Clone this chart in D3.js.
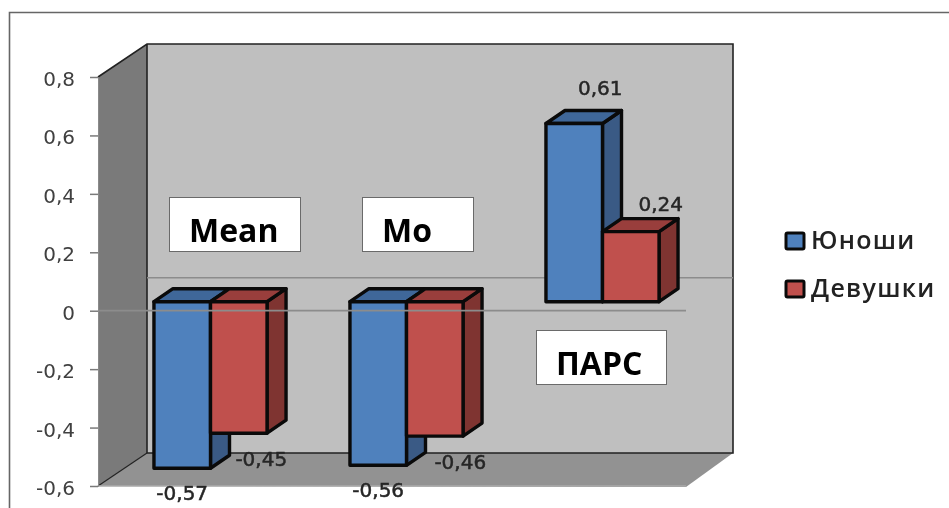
<!DOCTYPE html>
<html>
<head>
<meta charset="utf-8">
<script src="https://cdnjs.cloudflare.com/ajax/libs/d3/7.8.5/d3.min.js"></script>
<style>
  html, body { margin: 0; padding: 0; background: #fff; overflow: hidden; }
  text { font-family: "Open Sans", sans-serif; }
  svg { filter: blur(0.45px); }
</style>
</head>
<body>
<svg width="949" height="508"></svg>
<script>
let categories = ["Mean", "Mo", "ПАРС"]
let seriesNames = ["Юноши", "Девушки"]
let boys = [-0.57, -0.56, 0.61]
let girls = [-0.45, -0.46, 0.24]
let yTicks = [0.8, 0.6, 0.4, 0.2, 0, -0.2, -0.4, -0.6]

let fills = { "Юноши": ["#4f81bd", "#3f6799", "#3a5a85"], "Девушки": ["#c0504d", "#993e3c", "#7f3431"] }

let comma = d => String(d).replace(".", ",")

let svg = d3.select("svg")

let left = 98, right = 686, wallDx = 49, wallDy = -33
let y = d3.scaleLinear().domain([-0.6, 0.8]).range([486, 77])
let x0 = d3.scaleBand().domain(categories).range([left, right]).paddingInner(0.423).paddingOuter(0.2115)
let x1 = d3.scaleBand().domain(seriesNames).range([0, x0.bandwidth()])

// outer frame
svg.append("path").attr("d", "M9.5,508V12.5H949").attr("fill", "none").attr("stroke", "#666").attr("stroke-width", 1.6)

// 3d box: side wall, floor, back wall
let poly = pts => "M" + pts.map(p => p.join(",")).join("L") + "Z"
svg.append("path")
    .attr("d", poly([[left, y(0.8)], [left + wallDx, y(0.8) + wallDy], [left + wallDx, y(-0.6) + wallDy], [left, y(-0.6)]]))
    .attr("fill", "#7a7a7a")
svg.append("path")
    .attr("d", poly([[left, y(-0.6)], [left + wallDx, y(-0.6) + wallDy], [right + wallDx - 2, y(-0.6) + wallDy], [right, y(-0.6) + 1]]))
    .attr("fill", "#929292")
svg.append("rect")
    .attr("x", left + wallDx).attr("y", y(0.8) + wallDy)
    .attr("width", right - left - 2).attr("height", y(-0.6) - y(0.8))
    .attr("fill", "#bfbfbf")
svg.append("path")
    .attr("d", `M${left},${y(0.8)}L${left + wallDx},${y(0.8) + wallDy}H${right + wallDx - 2}V${y(-0.6) + wallDy}H${left + wallDx}V${y(0.8) + wallDy}`)
    .attr("fill", "none").attr("stroke", "#222").attr("stroke-width", 1.6)
svg.append("path")
    .attr("d", `M${left},${y(-0.6)}L${left + wallDx},${y(-0.6) + wallDy}`)
    .attr("fill", "none").attr("stroke", "#222").attr("stroke-width", 1.2)
svg.append("path")
    .attr("d", `M${left},${y(-0.6)}H${right}`)
    .attr("fill", "none").attr("stroke", "#aaa").attr("stroke-width", 1.5)

// zero line on the back wall
svg.append("line")
    .attr("x1", left + wallDx).attr("x2", right + wallDx - 2)
    .attr("y1", y(0) + wallDy).attr("y2", y(0) + wallDy)
    .attr("stroke", "#8c8c8c").attr("stroke-width", 1.6)

// value axis
let yAxis = d3.axisLeft(y).tickValues(yTicks).tickFormat(comma).tickSize(8).tickPadding(15)
let axisG = svg.append("g").attr("transform", `translate(${left},0)`).call(yAxis)
axisG.select(".domain").attr("stroke", "#8a8a8a")
axisG.selectAll(".tick line").attr("stroke", "#7a7a7a").attr("stroke-width", 1.5)
axisG.selectAll(".tick text")
    .attr("fill", "#404040")
    .attr("dy", "8.5px")
    .style("font-family", "'DejaVu Sans', sans-serif")
    .style("font-size", "20px")

// bars sit a bit inside the box
let barDx = 14.5, barDy = -9, depthX = 19, depthY = -13

let bars = []
categories.forEach((c, i) => {
    bars.push({ cat: c, name: seriesNames[0], value: boys[i] })
    bars.push({ cat: c, name: seriesNames[1], value: girls[i] })
})

let barG = svg.append("g").attr("stroke", "#0a0a0a").attr("stroke-width", 3.4).attr("stroke-linejoin", "round")

bars.forEach(d => {
    let xa = x0(d.cat) + x1(d.name) + barDx, xb = xa + x1.bandwidth()
    let yTop = Math.min(y(0), y(d.value)) + barDy, yBot = Math.max(y(0), y(d.value)) + barDy
    let f = fills[d.name]
    barG.append("path")
        .attr("d", poly([[xb, yTop], [xb + depthX, yTop + depthY], [xb + depthX, yBot + depthY], [xb, yBot]]))
        .attr("fill", f[2])
    barG.append("path")
        .attr("d", poly([[xa, yTop], [xa + depthX, yTop + depthY], [xb + depthX, yTop + depthY], [xb, yTop]]))
        .attr("fill", f[1])
    barG.append("rect")
        .attr("x", xa).attr("y", yTop)
        .attr("width", xb - xa).attr("height", yBot - yTop)
        .attr("fill", f[0])
})

// zero line in front of the bars
svg.append("line")
    .attr("x1", left).attr("x2", right)
    .attr("y1", y(0)).attr("y2", y(0))
    .attr("stroke", "#8c8c8c").attr("stroke-width", 1.8)

// value labels, moved by hand like in the original
let labelOffsets = {
    "Mean|Юноши": [0, 32], "Mean|Девушки": [22.5, 33],
    "Mo|Юноши": [0, 32], "Mo|Девушки": [25.5, 33],
    "ПАРС|Юноши": [26, -29], "ПАРС|Девушки": [30, -21]
}
svg.append("g").selectAll("text").data(bars).join("text")
    .attr("x", d => x0(d.cat) + x1(d.name) + barDx + x1.bandwidth() / 2 + labelOffsets[d.cat + "|" + d.name][0])
    .attr("y", d => y(d.value) + barDy + labelOffsets[d.cat + "|" + d.name][1])
    .attr("text-anchor", "middle")
    .attr("fill", "#262626")
    .attr("stroke", "#262626")
    .attr("stroke-width", 0.5)
    .style("font-family", "'DejaVu Sans', sans-serif")
    .style("font-size", "20px")
    .text(d => comma(d.value))

// white captions pasted over the chart
let captionX = d3.scaleOrdinal().domain(categories).range([169, 362, 536])
let captionW = d3.scaleOrdinal().domain(categories).range([131, 111, 130])
let captionY = d3.scaleOrdinal().domain(categories).range([197, 197, 330])
let captionDx = d3.scaleOrdinal().domain(categories).range([20, 20, 20])

categories.forEach(c => {
    svg.append("rect")
        .attr("x", captionX(c) + 0.5).attr("y", captionY(c) + 0.5)
        .attr("width", captionW(c)).attr("height", 54)
        .attr("fill", "#fff").attr("stroke", "#6a6a6a").attr("stroke-width", 1)
    svg.append("text")
        .attr("x", captionX(c) + captionDx(c)).attr("y", captionY(c) + 45)
        .attr("fill", "#000")
        .style("font-size", "32px")
        .style("font-weight", 700)
        .text(c)
})

// legend
let legendY = d3.scalePoint().domain(seriesNames).range([240, 288])
let legend = svg.append("g").selectAll("g").data(seriesNames).join("g")
    .attr("transform", d => `translate(786,${legendY(d)})`)
legend.append("rect")
    .attr("x", 0).attr("y", -7).attr("width", 18).attr("height", 16).attr("rx", 1.5)
    .attr("fill", d => fills[d][0]).attr("stroke", "#0a0a0a").attr("stroke-width", 3)
legend.append("text")
    .attr("x", 25).attr("y", 9)
    .attr("fill", "#222")
    .style("font-size", "25px")
    .style("font-weight", 600)
    .style("letter-spacing", "1.3px")
    .text(d => d)
</script>
</body>
</html>
